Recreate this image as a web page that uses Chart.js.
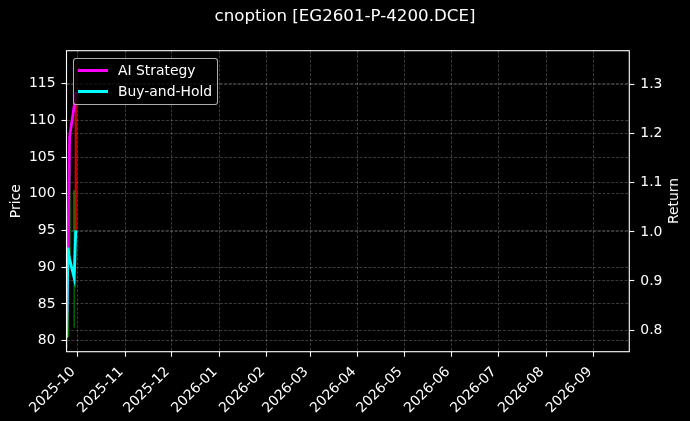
<!DOCTYPE html>
<html>
<head>
<meta charset="utf-8">
<script src="https://cdn.jsdelivr.net/npm/chart.js@4.4.1/dist/chart.umd.min.js"></script>
<style>
html,body{margin:0;padding:0;background:#000;}
#wrap{position:relative;width:690px;height:421px;overflow:hidden;background:#000;}
#c{position:absolute;left:0;top:0;}
#legend{position:absolute;left:73px;top:58px;width:143px;height:45px;background:rgba(0,0,0,0.8);border:1px solid rgba(204,204,204,0.85);border-radius:3px;font-family:'DejaVu Sans';font-size:13.9px;color:#fff;}
.sw{position:absolute;left:4px;width:30px;height:3px;}
.lb{position:absolute;left:44px;line-height:16px;white-space:nowrap;}
#rtitle{position:absolute;left:673px;top:201px;transform:translate(-50%,-50%) rotate(-90deg);font-family:'DejaVu Sans';font-size:13.9px;color:#fff;white-space:nowrap;}
</style>
</head>
<body>
<div id="wrap">
<canvas id="c" width="690" height="421"></canvas>
<div id="legend"></div>
<div id="rtitle">Return</div>
</div>
<script>
// ---- data ----
const chartTitle = 'cnoption [EG2601-P-4200.DCE]';
const dates = ['2025-09-24','2025-09-25','2025-09-26','2025-09-29','2025-09-30'];
const openP  = [79.0, 80.5, 92.0, 95.0, 113.0];
const highP  = [80.6, 93.0, 104.0, 100.4, 117.6];
const lowP   = [78.6, 80.5, 92.0, 81.8, 95.0];
const closeP = [80.4, 92.0, 104.0, 100.4, 95.0];
const aiReturn = [0.785, 0.968, 1.193, 1.257, 1.285];
const bhReturn = [0.785, 0.968, 0.945, 0.906, 1.003];
const seriesNames = ['AI Strategy', 'Buy-and-Hold'];
const monthTicks = ['2025-10','2025-11','2025-12','2026-01','2026-02','2026-03','2026-04','2026-05','2026-06','2026-07','2026-08','2026-09'];
const priceTicks = [80, 85, 90, 95, 100, 105, 110, 115];
const returnTicks = [0.8, 0.9, 1.0, 1.1, 1.2, 1.3];
const xStart = '2025-09-24', xEnd = '2026-09-24';
const priceRange = [78.5, 119.5];
const returnRange = [0.756, 1.369];

// ---- helpers ----
const ts = s => { const p = s.split('-').map(Number); return Date.UTC(p[0], p[1]-1, p[2] || 1); };
const monthLabel = {};
monthTicks.forEach(m => { monthLabel[ts(m + '-01')] = m; });
const FONT = 'DejaVu Sans';
const up = dates.map((d,i) => closeP[i] >= openP[i]);
const candleCol = dates.map((d,i) => up[i] ? 'rgba(0,128,0,0.75)' : 'rgba(230,0,0,0.75)');
const lineColors = ['#ff00ff', '#00ffff'];

// legend
const lg = document.getElementById('legend');
seriesNames.forEach((n,i) => {
  const y = 11 + i*21;
  lg.insertAdjacentHTML('beforeend',
    `<div class="sw" style="top:${y-1.5}px;background:${lineColors[i]}"></div><div class="lb" style="top:${y-8}px">${n}</div>`);
});

const framePlugin = {
  id: 'frame',
  afterDraw(chart) {
    const a = chart.chartArea, ctx = chart.ctx;
    ctx.save();
    ctx.strokeStyle = '#fff';
    ctx.lineWidth = 1.1;
    ctx.strokeRect(a.left, a.top, a.right - a.left, a.bottom - a.top);
    ctx.restore();
  }
};

const gridCommon = { color: 'rgba(255,255,255,0.28)', lineWidth: 0.8, tickColor: '#fff', tickLength: 5, tickWidth: 1.1, tickBorderDash: [], offset: false };
const tickFont = { family: FONT, size: 13.9 };

new Chart(document.getElementById('c'), {
  data: {
    datasets: [
      { type: 'line', label: seriesNames[0], yAxisID: 'y1', order: 1,
        data: dates.map((d,i) => ({ x: ts(d), y: aiReturn[i] })),
        borderColor: lineColors[0], borderWidth: 2.8, pointRadius: 0, tension: 0, fill: false },
      { type: 'line', label: seriesNames[1], yAxisID: 'y1', order: 0,
        data: dates.map((d,i) => ({ x: ts(d), y: bhReturn[i] })),
        borderColor: lineColors[1], borderWidth: 2.8, pointRadius: 0, tension: 0, fill: false },
      { type: 'bar', label: 'wick', yAxisID: 'y', order: 3, grouped: false,
        data: dates.map((d,i) => ({ x: ts(d), y: [lowP[i], highP[i]] })),
        backgroundColor: candleCol, borderWidth: 0, barThickness: 1 },
      { type: 'bar', label: 'body', yAxisID: 'y', order: 2, grouped: false,
        data: dates.map((d,i) => ({ x: ts(d), y: [openP[i], closeP[i]] })),
        backgroundColor: candleCol, borderWidth: 0, barThickness: 1.6 }
    ]
  },
  options: {
    responsive: false,
    animation: false,
    devicePixelRatio: 1,
    layout: { padding: { left: 0, right: 0, top: 0, bottom: 0 } },
    plugins: {
      legend: { display: false },
      tooltip: { enabled: false },
      title: { display: true, text: chartTitle, color: '#fff', font: { family: FONT, size: 16.67, weight: 'normal' },
               padding: { top: 7, bottom: 23.7 } }
    },
    scales: {
      x: {
        type: 'linear', position: 'bottom', min: ts(xStart), max: ts(xEnd), offset: false,
        afterBuildTicks: ax => { ax.ticks = monthTicks.map(m => ({ value: ts(m + '-01') })); },
        afterFit: ax => { ax.height = 421 - 351.7; },
        ticks: { autoSkip: false, maxRotation: 45, minRotation: 45, color: '#fff', font: tickFont, padding: 7, labelOffset: -4,
                 callback: v => monthLabel[v] || '' },
        grid: gridCommon,
        border: { display: false, dash: [3, 1.5] }
      },
      y: {
        type: 'linear', position: 'left', min: priceRange[0], max: priceRange[1],
        afterBuildTicks: ax => { ax.ticks = priceTicks.map(v => ({ value: v })); },
        afterFit: ax => { ax.width = 66.5; },
        ticks: { autoSkip: false, color: '#fff', font: tickFont, padding: 6, callback: v => String(v) },
        grid: gridCommon,
        border: { display: false, dash: [3, 1.5] },
        title: { display: true, text: 'Price', color: '#fff', font: tickFont, padding: { top: 8.5, bottom: 0 } }
      },
      y1: {
        type: 'linear', position: 'right', min: returnRange[0], max: returnRange[1],
        afterBuildTicks: ax => { ax.ticks = returnTicks.map(v => ({ value: v })); },
        afterFit: ax => { ax.width = 690 - 629.3; },
        ticks: { autoSkip: false, color: '#fff', font: tickFont, padding: 6, callback: v => Number(v).toFixed(1) },
        grid: gridCommon,
        border: { display: false, dash: [3, 1.5] }
      }
    }
  },
  plugins: [framePlugin]
});
</script>
</body>
</html>
